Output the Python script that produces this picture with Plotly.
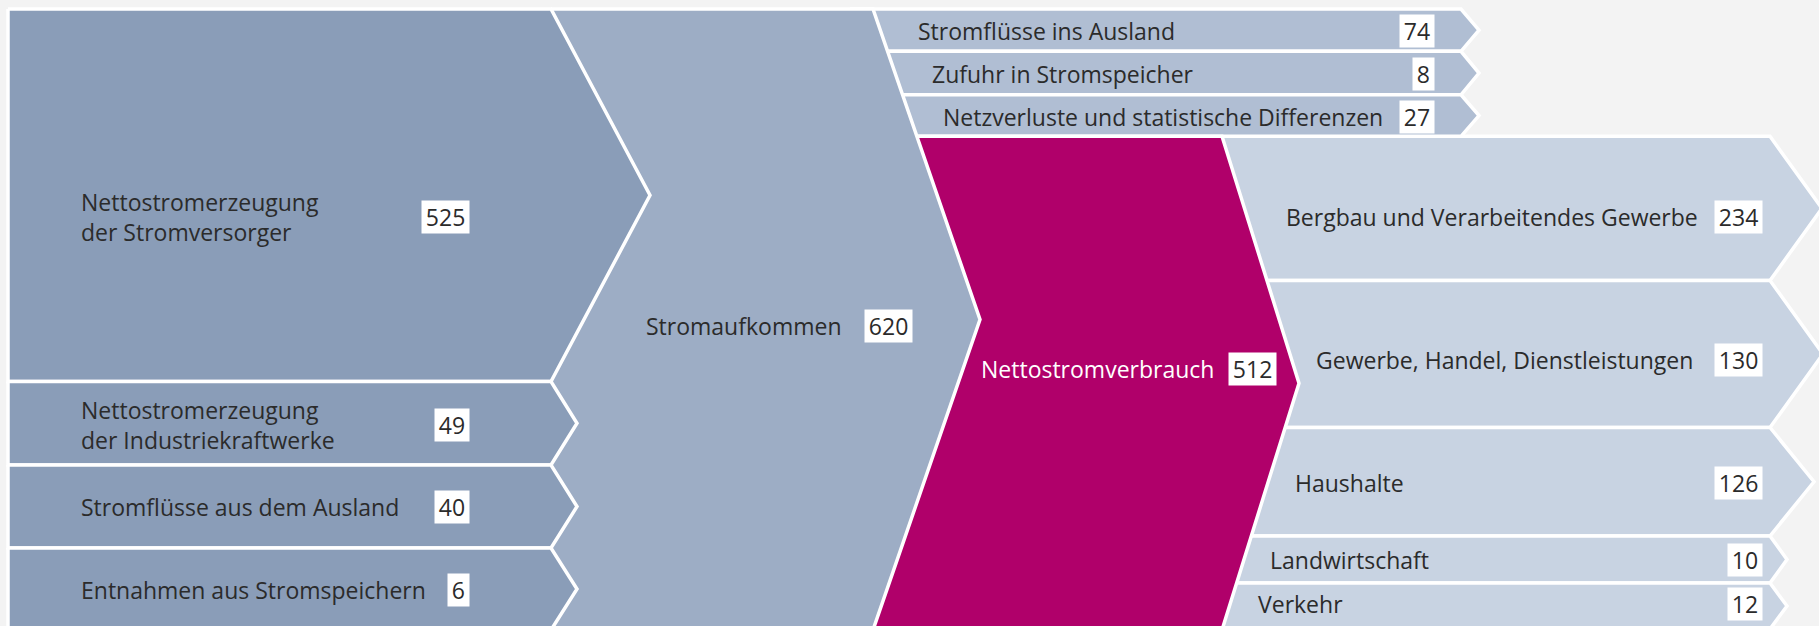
import plotly.graph_objects as go

# ---------------- data ----------------
source_names = ["Nettostromerzeugung<br>der Stromversorger",
                "Nettostromerzeugung<br>der Industriekraftwerke",
                "Stromflüsse aus dem Ausland",
                "Entnahmen aus Stromspeichern"]
source_values = [525, 49, 40, 6]

total_name = "Stromaufkommen"
total_value = 620

export_names = ["Stromflüsse ins Ausland",
                "Zufuhr in Stromspeicher",
                "Netzverluste und statistische Differenzen"]
export_values = [74, 8, 27]

consumption_name = "Nettostromverbrauch"
consumption_value = 512

sector_names = ["Bergbau und Verarbeitendes Gewerbe",
                "Gewerbe, Handel, Dienstleistungen",
                "Haushalte",
                "Landwirtschaft",
                "Verkehr"]
sector_values = [234, 130, 126, 10, 12]

# ---------------- layout (axis units = pixels) ----------------
W, H = 1819, 626
TOP, BOTTOM = 9.0, 630.0
source_heights = [372.5, 83.5, 83.0, 82.0]
export_heights = [42.3, 43.5, 41.5]
sector_heights = [144.2, 147.0, 108.5, 47.0, 46.0]

COL = dict(source="#8a9db8", total="#9dadc5", export="#b0bed3",
           consumption="#b0006a", sector="#c8d3e2", bg="#f3f3f3")

# column x geometry: (left, right, tip depth)
SRC_X = (8, 551)
SRC_TIP = [99, 26, 26, 26]
TOT_X = (551, 873, 107)
EXP_X = (850, 1461, 18)
CON_X = (850, 1222, 77)
SEC_X = (1200, 1770)
SEC_TIP = [52, 53, 44, 17, 17]

FONT = "Open Sans"
FS = 23
PAD = "\u2006"


def bands(start, heights):
    out, y = [], start
    for h in heights:
        out.append((y, y + h))
        y += h
    return out


def chevron(xl, xr, tip, y0, y1):
    ym = (y0 + y1) / 2
    return [xl, xr, xr + tip, xr, xl, xl], [y0, y0, ym, y1, y1, y0]


fig = go.Figure()


def add_poly(xs, ys, color):
    fig.add_trace(go.Scatter(x=xs, y=ys, mode="lines", fill="toself",
                             fillcolor=color,
                             line=dict(color="white", width=3.5),
                             hoverinfo="skip", showlegend=False))


src_b = bands(TOP, source_heights)
exp_b = bands(TOP, export_heights)
con_top = exp_b[-1][1]
sec_b = bands(con_top, sector_heights)

# draw right-to-left so each chevron overlaps the next column
for (y0, y1), tip in zip(sec_b, SEC_TIP):
    add_poly(*chevron(SEC_X[0], SEC_X[1], tip, y0, y1), COL["sector"])
for (y0, y1) in exp_b:
    add_poly(*chevron(EXP_X[0], EXP_X[1], EXP_X[2], y0, y1), COL["export"])
add_poly(*chevron(CON_X[0], CON_X[1], CON_X[2], con_top, BOTTOM), COL["consumption"])
add_poly(*chevron(TOT_X[0], TOT_X[1], TOT_X[2], TOP, BOTTOM), COL["total"])
for (y0, y1), tip in zip(src_b, SRC_TIP):
    add_poly(*chevron(SRC_X[0], SRC_X[1], tip, y0, y1), COL["source"])

annotations = []


def label(text, x, y, anchor, color="#2b2b2b", align="left"):
    annotations.append(dict(x=x, y=y, xref="x", yref="y", text=text,
                            xanchor=anchor, yanchor="middle", align=align,
                            showarrow=False,
                            font=dict(family=FONT, size=FS, color=color)))


def value_box(v, x, y):
    annotations.append(dict(x=x, y=y, xref="x", yref="y",
                            text=PAD + str(v) + PAD,
                            xanchor="right", yanchor="middle",
                            showarrow=False, bgcolor="#ffffff", borderpad=0,
                            font=dict(family=FONT, size=FS, color="#2b2b2b")))


# label offsets relative to band centres
src_dy = [22, 2, 0, 1]
for (y0, y1), name, v, dy in zip(src_b, source_names, source_values, src_dy):
    yc = (y0 + y1) / 2 + dy
    label(name, 79, yc, "left")
    value_box(v, 470, yc)

ytot = (TOP + BOTTOM) / 2 + 6.5
label(total_name, 844, ytot, "right")
value_box(total_value, 913, ytot)

exp_tx = [916, 930, 941]
for (y0, y1), name, v, tx in zip(exp_b, export_names, export_values, exp_tx):
    yc = (y0 + y1) / 2 + 1
    label(name, tx, yc, "left")
    value_box(v, 1435, yc)

ycon = (con_top + BOTTOM) / 2 - 14
label(consumption_name, 1216, ycon, "right", color="#ffffff")
value_box(consumption_value, 1277, ycon)

sec_tx = [1284, 1314, 1293, 1268, 1256]
sec_dy = [8.5, 6, 1.5, 0.5, -2.5]
for (y0, y1), name, v, tx, dy in zip(sec_b, sector_names, sector_values, sec_tx, sec_dy):
    yc = (y0 + y1) / 2 + dy
    label(name, tx, yc, "left")
    value_box(v, 1763, yc)

fig.update_layout(
    width=W, height=H,
    margin=dict(l=0, r=0, t=0, b=0),
    paper_bgcolor=COL["bg"], plot_bgcolor=COL["bg"],
    xaxis=dict(range=[0, W], visible=False, fixedrange=True),
    yaxis=dict(range=[H, 0], visible=False, fixedrange=True),
    annotations=annotations,
    showlegend=False,
    hovermode=False,
)

fig.write_html(
    "out.html",
    config={"displayModeBar": False, "staticPlot": True},
    post_script="document.body.style.margin='0';"
                "document.body.style.overflow='hidden';"
                "document.body.style.background='%s';" % COL["bg"],
)
